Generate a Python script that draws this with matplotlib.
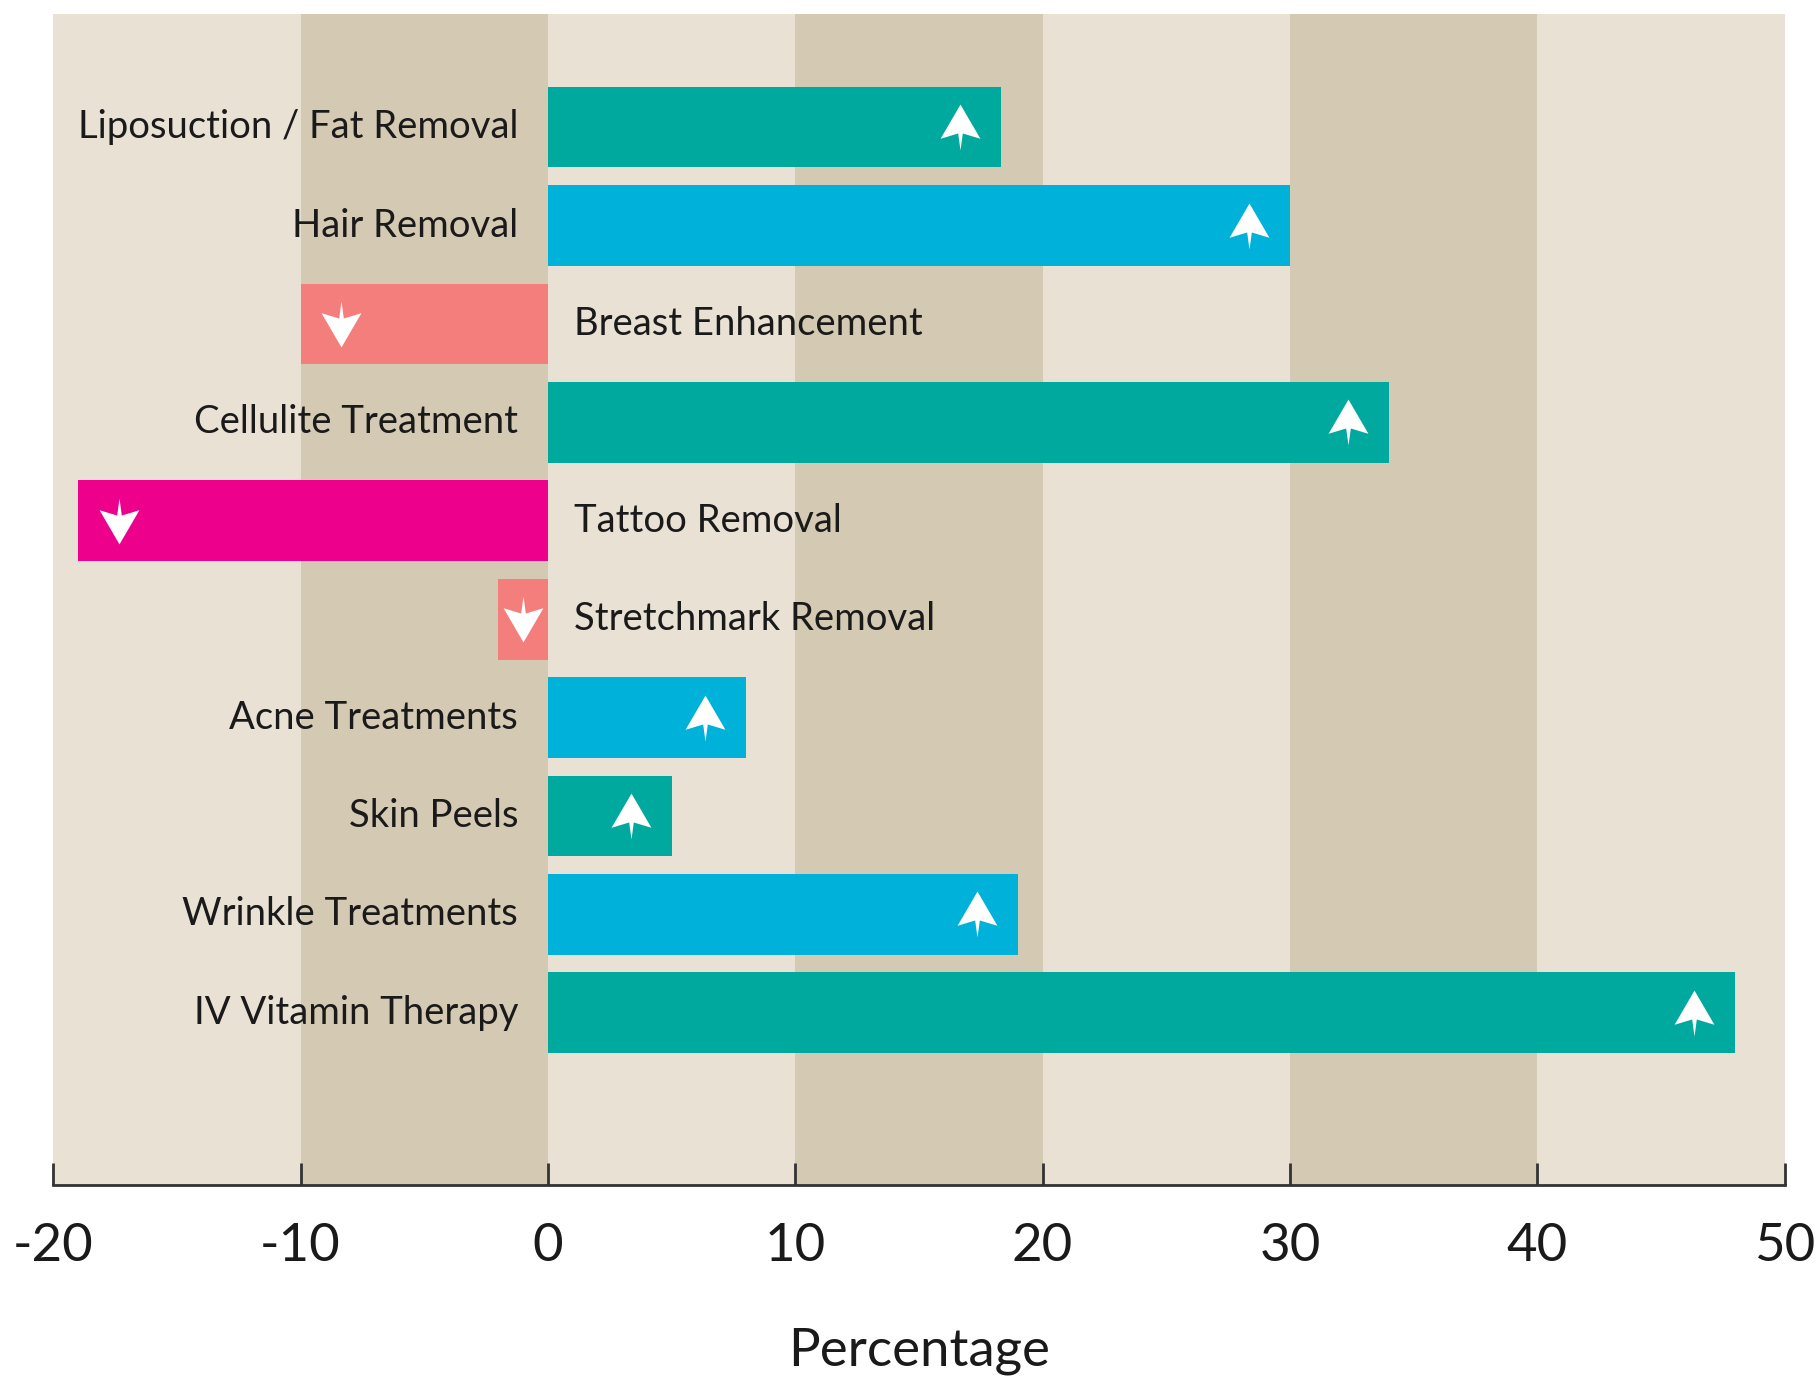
import numpy as np
import matplotlib
matplotlib.use("Agg")
import matplotlib.pyplot as plt
from matplotlib.path import Path

# data
categories = ["Liposuction / Fat Removal", "Hair Removal", "Breast Enhancement",
              "Cellulite Treatment", "Tattoo Removal", "Stretchmark Removal",
              "Acne Treatments", "Skin Peels", "Wrinkle Treatments", "IV Vitamin Therapy"]
values = [18.3, 30, -10, 34, -19, -2, 8, 5, 19, 48]
bar_colors = ["#00A99D", "#00B2DA", "#F47E7B", "#00A99D", "#EC008C",
              "#F47E7B", "#00B2DA", "#00A99D", "#00B2DA", "#00A99D"]
x_ticks = [-20, -10, 0, 10, 20, 30, 40, 50]

plt.rcParams['font.family'] = ['Lato', 'DejaVu Sans']

fig = plt.figure(figsize=(18.17, 13.95), dpi=100)
ax = fig.add_axes([0.0293, 0.1505, 0.9529, 0.8395])

# alternating background bands
for i, lo in enumerate(x_ticks[:-1]):
    ax.axvspan(lo, lo + 10, color="#D4C9B2" if i % 2 else "#E8E1D4", zorder=0, lw=0)

y = np.arange(len(categories))
ax.barh(y, values, height=0.82, color=bar_colors, zorder=2)

# arrow markers (up arrow with a little tail)
up_verts = [(0, 69), (60, -34), (7, -18), (0, -69), (-7, -18), (-60, -34), (0, 69)]
up_marker = Path(up_verts, closed=True)
down_marker = Path([(vx, -vy) for vx, vy in up_verts], closed=True)

for yi, v in zip(y, values):
    off = min(1.65, abs(v) / 2)
    if v >= 0:
        ax.plot(v - off, yi, marker=up_marker, markersize=33, color="white",
                markeredgewidth=0, zorder=3)
        ax.annotate(categories[yi], (0, yi), xytext=(-21.5, 0), textcoords="offset points",
                    ha="right", va="center", fontsize=27.5, color="#1a1a1a")
    else:
        ax.plot(v + off, yi, marker=down_marker, markersize=33, color="white",
                markeredgewidth=0, zorder=3)
        ax.annotate(categories[yi], (0, yi), xytext=(18.5, 0), textcoords="offset points",
                    ha="left", va="center", fontsize=27.5, color="#1a1a1a")

ax.set_xlim(-20, 50)
ax.set_ylim(10.75, -1.15)
ax.set_yticks([])
ax.set_xticks(x_ticks)
ax.set_xticklabels([str(t) for t in x_ticks])
ax.tick_params(axis="x", direction="in", length=16, width=2, color="#333333",
               labelsize=38, labelcolor="#1a1a1a", pad=27)
for s in ["top", "right", "left"]:
    ax.spines[s].set_visible(False)
ax.spines["bottom"].set_linewidth(2)
ax.spines["bottom"].set_color("#333333")
ax.set_xlabel("Percentage", fontsize=38, color="#1a1a1a", labelpad=42)

fig.savefig("out.png", dpi=100)
